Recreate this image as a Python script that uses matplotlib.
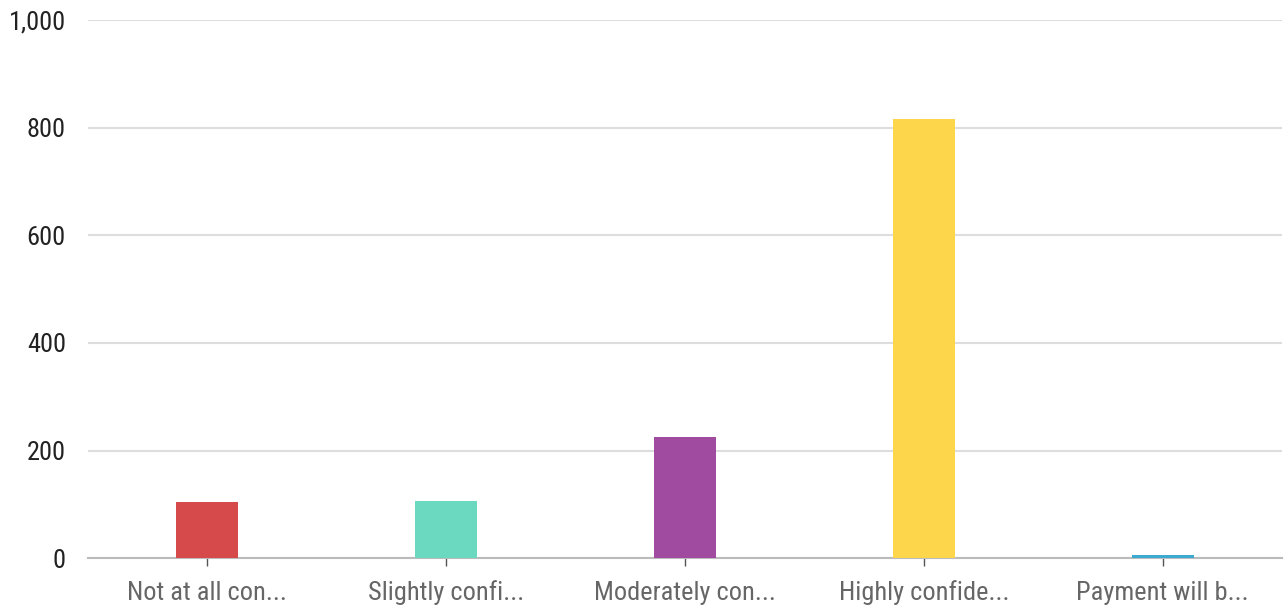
import matplotlib
matplotlib.use("Agg")
import matplotlib.pyplot as plt
from matplotlib.ticker import FuncFormatter, MultipleLocator

categories = ["Not at all con...", "Slightly confi...", "Moderately con...", "Highly confide...", "Payment will b..."]
values = [104, 106, 225, 816, 6]
colors = ["#d64a4c", "#6ad9c0", "#a04ba0", "#fed64b", "#3ba9d0"]

plt.rcParams['font.family'] = ['Roboto Condensed', 'Liberation Sans', 'DejaVu Sans']

fig = plt.figure(figsize=(12.88, 6.13), dpi=100)
ax = fig.add_axes([88/1288, 1-558.3/613, (1282-88)/1288, 538.3/613])

x = list(range(len(categories)))
ax.bar(x, values, width=0.26, color=colors, alpha=1.0, zorder=3)
ax.set_xlim(-0.5, len(categories)-0.5)
ax.set_ylim(0, 1000)
ax.yaxis.set_major_locator(MultipleLocator(200))
ax.yaxis.set_major_formatter(FuncFormatter(lambda v, p: f"{int(v):,}"))
ax.grid(axis='y', color='#dddddd', linewidth=1.5, zorder=0)
ax.set_axisbelow(True)
for s in ['top', 'right', 'left']:
    ax.spines[s].set_visible(False)
ax.spines['bottom'].set_color('#bbbbbb')
ax.spines['bottom'].set_linewidth(1.5)
ax.spines['bottom'].set_zorder(2)
ax.set_xticks(x)
ax.set_xticklabels(categories, fontsize=19, color='#666666')
ax.tick_params(axis='x', length=6, width=1, color='#555555', pad=10)
ax.tick_params(axis='y', length=0, labelsize=19, labelcolor='#222222', pad=16)

fig.savefig("out.png", dpi=100)
